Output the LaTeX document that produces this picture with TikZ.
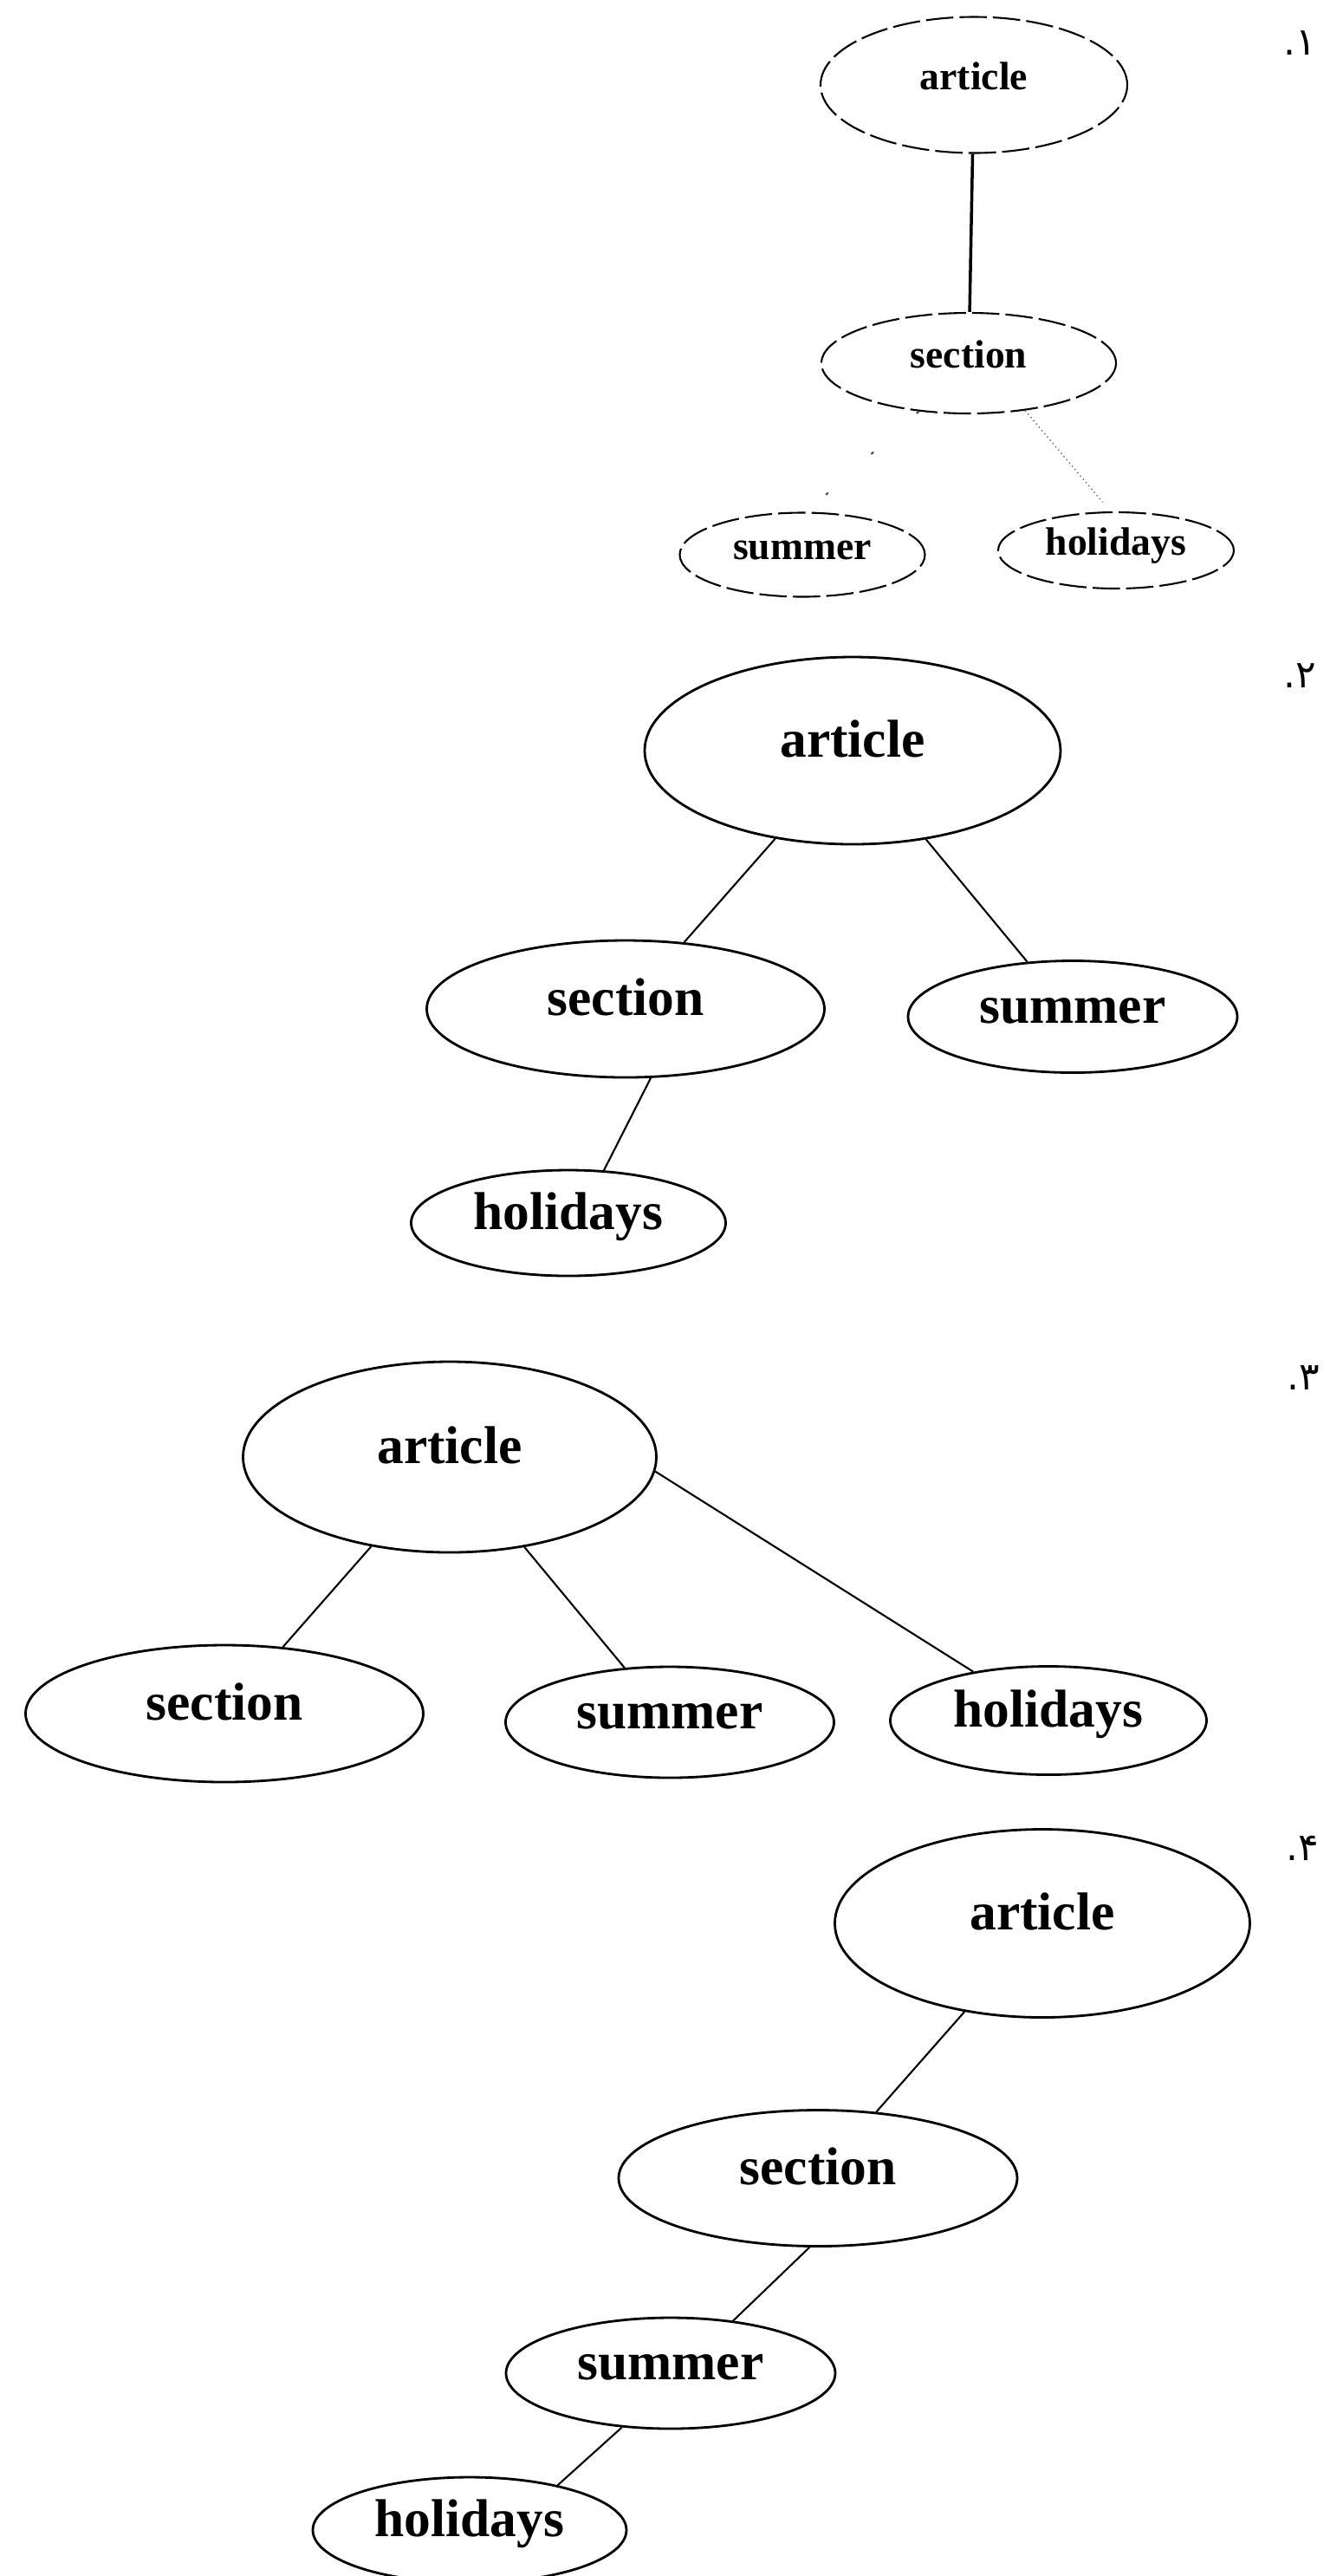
\documentclass[tikz,border=0pt]{standalone}
\usepackage{fontspec}
\setmainfont{Liberation Serif}
\newfontfamily\arabicfont[Script=Arabic]{DejaVu Sans}
\TeXXeTstate=1
\usetikzlibrary{shapes.geometric}

\tikzset{
  elem/.style={ellipse, draw, line width=0.8pt, inner sep=0pt,
    font=\bfseries\fontsize{17.5}{20}\selectfont,
    text height=14pt, text depth=9.6pt},
  elemsmall/.style={elem, line width=0.6pt, dash pattern=on 9pt off 2pt,
    font=\bfseries\fontsize{13}{15}\selectfont,
    text height=10.4pt, text depth=7.2pt},
  edge/.style={line width=0.6pt},
  faint/.style={line width=0.4pt, densely dotted, black!60},
  sparse/.style={line width=0.6pt, dash pattern=on 1pt off 19pt, black!70},
  num/.style={font=\arabicfont\fontsize{12.5}{14}\selectfont, inner sep=0pt},
}

\begin{document}
\begin{tikzpicture}
  \useasboundingbox (0,0) rectangle (15.5,-29.72);

  % tree 1
  \node[elemsmall, minimum width=3.54cm, minimum height=1.57cm] (art1) at (11.24,-0.98) {article};
  \node[elemsmall, minimum width=3.40cm, minimum height=1.16cm] (sec1) at (11.18,-4.19) {section};
  \node[elemsmall, minimum width=2.83cm, minimum height=0.97cm] (sum1) at (9.26,-6.40) {summer};
  \node[elemsmall, minimum width=2.72cm, minimum height=0.88cm] (hol1) at (12.88,-6.35) {holidays};
  \node[num] (lab1) at (15.00,-0.50) {\beginR ۱.\endR};

  \draw[edge, line width=1pt] (art1) -- (sec1);
  \draw[sparse] (sec1.-136) -- (sum1.84);
  \draw[faint, shorten >=0.14cm] (sec1.-40) -- (hol1.98);

  % tree 2
  \node[elem, minimum width=4.80cm, minimum height=2.16cm] (art2) at (9.84,-8.66) {article};
  \node[elem, minimum width=4.59cm, minimum height=1.58cm] (sec2) at (7.22,-11.64) {section};
  \node[elem, minimum width=3.80cm, minimum height=1.29cm] (sum2) at (12.38,-11.73) {summer};
  \node[elem, minimum width=3.63cm, minimum height=1.22cm] (hol2) at (6.56,-14.11) {holidays};
  \node[num] (lab2) at (15.00,-7.80) {\beginR ۲.\endR};

  \draw[edge] (art2) -- (sec2);
  \draw[edge] (art2) -- (sum2);
  \draw[edge] (sec2.-70) -- (hol2.56);

  % tree 3
  \node[elem, minimum width=4.77cm, minimum height=2.20cm] (art3) at (5.19,-16.81) {article};
  \node[elem, minimum width=4.59cm, minimum height=1.58cm] (sec3) at (2.59,-19.77) {section};
  \node[elem, minimum width=3.79cm, minimum height=1.28cm] (sum3) at (7.73,-19.87) {summer};
  \node[elem, minimum width=3.65cm, minimum height=1.25cm] (hol3) at (12.10,-19.85) {holidays};
  \node[num] (lab3) at (15.04,-15.90) {\beginR ۳.\endR};

  \draw[edge] (art3) -- (sec3);
  \draw[edge] (art3) -- (sum3);
  \draw[edge] (art3.-4) -- (hol3.147);

  % tree 4
  \node[elem, minimum width=4.79cm, minimum height=2.17cm] (art4) at (12.03,-22.19) {article};
  \node[elem, minimum width=4.60cm, minimum height=1.57cm] (sec4) at (9.44,-25.13) {section};
  \node[elem, minimum width=3.80cm, minimum height=1.28cm] (sum4) at (7.74,-27.38) {summer};
  \node[elem, minimum width=3.62cm, minimum height=1.22cm] (hol4) at (5.42,-29.19) {holidays};
  \node[num] (lab4) at (15.03,-21.32) {\beginR ۴.\endR};

  \draw[edge] (art4) -- (sec4);
  \draw[edge] (sec4.-97) -- (sum4.40);
  \draw[edge] (sum4.-132) -- (hol4.27);
\end{tikzpicture}
\end{document}
